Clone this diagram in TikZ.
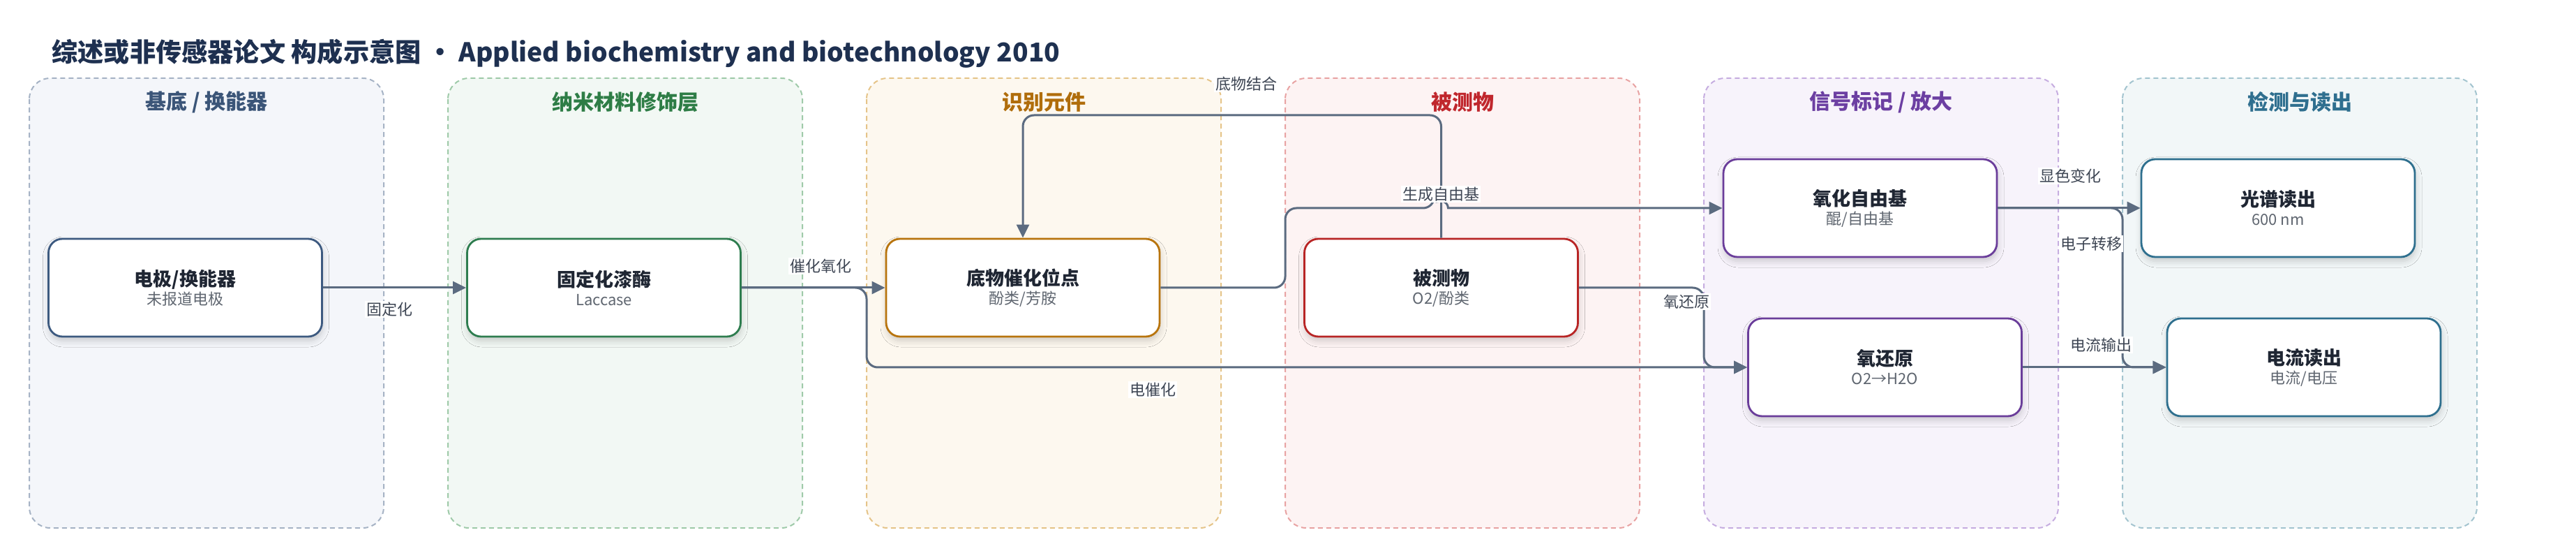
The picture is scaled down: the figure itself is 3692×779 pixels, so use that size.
\documentclass[tikz,border=0pt]{standalone}
\usepackage{fontspec}
\setmainfont{Noto Sans CJK SC}
\usetikzlibrary{arrows.meta,shadows.blur}

\definecolor{edgec}{HTML}{5B6B80}
\definecolor{labelc}{HTML}{3E4654}
\definecolor{titlec}{HTML}{1E3050}
\definecolor{nodetxt}{HTML}{1F2633}
\definecolor{subtxt}{HTML}{5F6670}
% lane fills / borders / headers
\definecolor{laAf}{HTML}{F4F6FA}\definecolor{laAb}{HTML}{A6B3C5}\definecolor{laAh}{HTML}{3B5578}
\definecolor{laBf}{HTML}{F2F8F4}\definecolor{laBb}{HTML}{9FCAA9}\definecolor{laBh}{HTML}{2E7D46}
\definecolor{laCf}{HTML}{FDF8EF}\definecolor{laCb}{HTML}{E5C489}\definecolor{laCh}{HTML}{B06D0B}
\definecolor{laDf}{HTML}{FDF3F3}\definecolor{laDb}{HTML}{E8A3A3}\definecolor{laDh}{HTML}{C0272D}
\definecolor{laEf}{HTML}{F7F3FB}\definecolor{laEb}{HTML}{C6ADE0}\definecolor{laEh}{HTML}{6C3FA2}
\definecolor{laFf}{HTML}{F2F7F8}\definecolor{laFb}{HTML}{A3C4CF}\definecolor{laFh}{HTML}{2F6F8F}
% node borders
\definecolor{nbA}{HTML}{3D5A80}
\definecolor{nbB}{HTML}{2E7D4F}
\definecolor{nbC}{HTML}{B8740D}
\definecolor{nbD}{HTML}{B82525}
\definecolor{nbE}{HTML}{6A3D9A}
\definecolor{nbF}{HTML}{2E6F8E}

\newcommand{\boxtext}[2]{{\fontsize{13.5}{16}\selectfont\bfseries\color{nodetxt}#1}\\[1.5pt]{\fontsize{11}{13}\selectfont\color{subtxt}#2}}

\begin{document}
\begin{tikzpicture}[x=0.5pt,y=-0.5pt,
  lane/.style={draw=#1, line width=1pt, dash pattern=on 3.5pt off 2.5pt, rounded corners=15pt},
  hdr/.style={font=\fontsize{15}{18}\selectfont\bfseries, text=#1, inner sep=0pt},
  box/.style={draw=#1, fill=white, line width=1.4pt, rounded corners=10pt,
    minimum width=196pt, minimum height=70pt, align=center, inner sep=0pt,
    blur shadow={shadow xshift=0.5pt, shadow yshift=-3pt, shadow blur radius=4.5pt, shadow opacity=18}},
  conn/.style={draw=edgec, line width=1.5pt, rounded corners=8pt, -{Triangle[length=9.5pt,width=9pt]}},
  lbl/.style={fill=white, inner sep=1pt, font=\fontsize{11}{13}\selectfont, text=labelc},
]
\useasboundingbox (0,0) rectangle (3692,779);

% title
\node[anchor=west, inner sep=0pt, font=\fontsize{18.6}{22}\selectfont\bfseries, text=titlec] (title) at (74,77)
  {综述或非传感器论文 构成示意图 · Applied biochemistry and biotechnology 2010};

% lanes
\path[lane=laAb, fill=laAf] (42,112) rectangle (550,756);
\path[lane=laBb, fill=laBf] (642,112) rectangle (1150,756);
\path[lane=laCb, fill=laCf] (1242,112) rectangle (1750,756);
\path[lane=laDb, fill=laDf] (1842,112) rectangle (2350,756);
\path[lane=laEb, fill=laEf] (2442,112) rectangle (2950,756);
\path[lane=laFb, fill=laFf] (3042,112) rectangle (3550,756);

\node[hdr=laAh] (h1) at (296,146) {基底 / 换能器};
\node[hdr=laBh] (h2) at (896,146) {纳米材料修饰层};
\node[hdr=laCh] (h3) at (1496,146) {识别元件};
\node[hdr=laDh] (h4) at (2096,146) {被测物};
\node[hdr=laEh] (h5) at (2696,146) {信号标记 / 放大};
\node[hdr=laFh] (h6) at (3296,146) {检测与读出};

% nodes
\node[box=nbA] (n1) at (265.5,412) {\boxtext{电极/换能器}{未报道电极}};
\node[box=nbB] (n2) at (865.5,412) {\boxtext{固定化漆酶}{Laccase}};
\node[box=nbC] (n3) at (1466,412) {\boxtext{底物催化位点}{酚类/芳胺}};
\node[box=nbD] (n4) at (2065.5,412) {\boxtext{被测物}{O2/酚类}};
\node[box=nbE] (n5) at (2666,298) {\boxtext{氧化自由基}{醌/自由基}};
\node[box=nbE] (n6) at (2701.5,526) {\boxtext{氧还原}{O2→H2O}};
\node[box=nbF] (n7) at (3265,298) {\boxtext{光谱读出}{600 nm}};
\node[box=nbF] (n8) at (3302,526) {\boxtext{电流读出}{电流/电压}};

% connectors
\draw[conn] (n1.east) -- (n2.west);
\draw[conn] (n2.east) -- (n3.west);
\draw[conn] (n2.east) -- (1242,412) -- (1242,526) -- (n6.west);
\draw[conn] (n4.north) -- (2065.5,165) -- (1466,165) -- (n3.north);
\draw[conn] (n3.east) -- (1842,412) -- (1842,298) -- (2055.5,298) [sharp corners] arc[start angle=180,end angle=0,radius=5pt] -- (n5.west);
\draw[conn] (n4.east) -- (2442,412) -- (2442,526) -- (n6.west);
\draw[conn] (n5.east) -- (n7.west);
\draw[conn] (n5.east) -- (3042,298) -- (3042,526) -- (n8.west);
\draw[conn] (n6.east) -- (n8.west);

% labels
\node[lbl] (l1) at (558,443) {固定化};
\node[lbl] (l2) at (1176,381) {催化氧化};
\node[lbl] (l3) at (1652,558) {电催化};
\node[lbl] (l4) at (1786,120) {底物结合};
\node[lbl] (l5) at (2065,278) {生成自由基};
\node[lbl] (l6) at (2417,432) {氧还原};
\node[lbl] (l7) at (2967,252) {显色变化};
\node[lbl] (l8) at (2997,349) {电子转移};
\node[lbl] (l9) at (3011,494) {电流输出};
\end{tikzpicture}
\end{document}
